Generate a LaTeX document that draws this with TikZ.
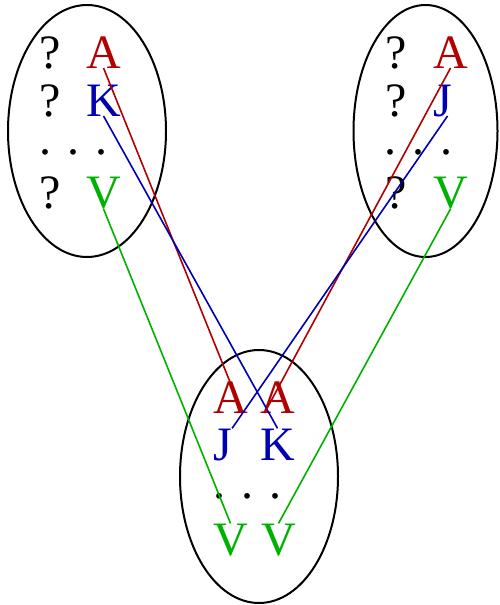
\documentclass[tikz,border=0pt]{standalone}
\usepackage{fontspec}
\setmainfont{Liberation Serif}
\usepackage{xcolor}
\usetikzlibrary{shapes.geometric}
\definecolor{cred}{rgb}{0.7,0,0}
\definecolor{cblue}{rgb}{0,0,0.7}
\definecolor{cgreen}{rgb}{0,0.7,0}
\begin{document}
\begin{tikzpicture}[x=1pt, y=-1pt,
  set/.style={draw, ellipse, line width=2pt, inner sep=0, minimum width=158pt, minimum height=252pt},
  sym/.style={anchor=base west, inner sep=0, font=\fontsize{48}{50}\selectfont},
  link/.style={line width=1.6pt}]
\useasboundingbox (0,0) rectangle (499,605);
\node[set] (lset) at (87,131) {};
\node[set, minimum width=144pt] (rset) at (425.5,131) {};
\node[set, minimum height=253pt] (bset) at (259,476.5) {};
% left set
\node[sym] (lq1) at (39,68) {?};
\node[sym, cred] (lA) at (86,68) {A};
\node[sym] (lq2) at (39,116) {?};
\node[sym, cblue] (lK) at (86,116) {K};
\node[sym] (ldots) at (39,154) {. . .};
\node[sym] (lq3) at (39,208) {?};
\node[sym, cgreen] (lV) at (86,208) {V};
% right set
\node[sym] (rq1) at (385,68) {?};
\node[sym, cred] (rA) at (433,68) {A};
\node[sym] (rq2) at (385,116) {?};
\node[sym, cblue] (rJ) at (433,116) {J};
\node[sym] (rdots) at (384,154) {. . .};
\node[sym] (rq3) at (385,208) {?};
\node[sym, cgreen] (rV) at (433,208) {V};
% bottom set
\node[sym, cred] (bA1) at (213,413) {A};
\node[sym, cred] (bA2) at (260,413) {A};
\node[sym, cblue] (bJ) at (213,460) {J};
\node[sym, cblue] (bK) at (260,460) {K};
\node[sym] (bdots) at (213,498) {. . .};
\node[sym, cgreen] (bV1) at (213,555) {V};
\node[sym, cgreen] (bV2) at (261,555) {V};
% links
\draw[link, cred] (lA.base) -- ([xshift=12pt]bA1.base);
\draw[link, cblue] (lK.base) -- (bK.north);
\draw[link, cgreen] (lV.south) -- (bV1.north);
\draw[link, cred] (rA.base) -- ([xshift=-13pt]bA2.base);
\draw[link, cblue] ([xshift=5pt]rJ.base) -- (bJ.north east);
\draw[link, cgreen] (rV.south) -- (bV2.north);
\end{tikzpicture}
\end{document}
